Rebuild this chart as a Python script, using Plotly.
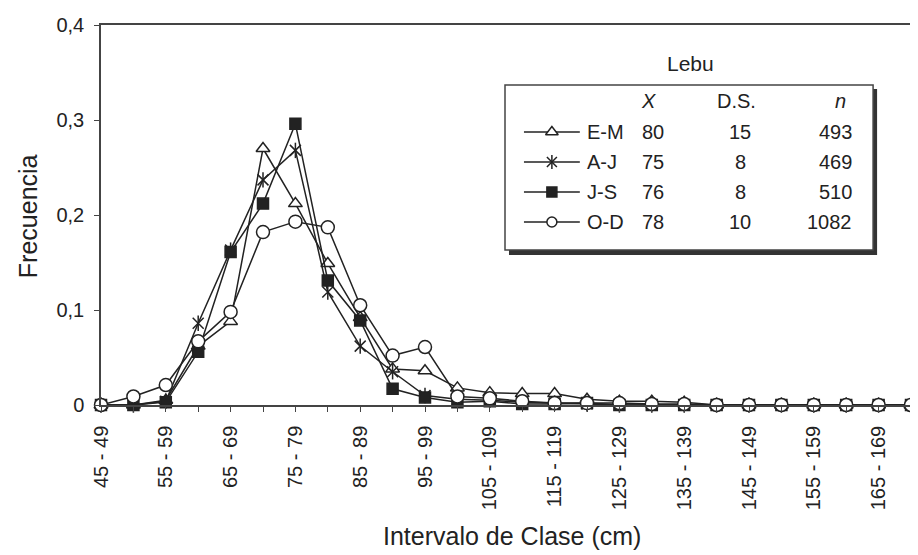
import plotly.graph_objects as go

# ---------------- data ----------------
classes = ["45 - 49", "50 - 54", "55 - 59", "60 - 64", "65 - 69", "70 - 74",
           "75 - 79", "80 - 84", "85 - 89", "90 - 94", "95 - 99", "100 - 104",
           "105 - 109", "110 - 114", "115 - 119", "120 - 124", "125 - 129",
           "130 - 134", "135 - 139", "140 - 144", "145 - 149", "150 - 154",
           "155 - 159", "160 - 164", "165 - 169", "170 - 174"]

em = [0, 0, 0.005, 0.062, 0.088, 0.270, 0.212, 0.149, 0.092, 0.038, 0.036, 0.018,
      0.013, 0.012, 0.012, 0.006, 0.004, 0.004, 0.003, 0, 0, 0, 0, 0, 0, 0]
aj = [0, 0, 0.004, 0.086, 0.163, 0.237, 0.268, 0.119, 0.062, 0.035, 0.010, 0.006,
      0.005, 0.003, 0.002, 0.001, 0, 0, 0, 0, 0, 0, 0, 0, 0, 0]
js = [0, 0, 0.003, 0.056, 0.161, 0.212, 0.296, 0.131, 0.089, 0.017, 0.008, 0.003,
      0.004, 0.001, 0.001, 0.002, 0, 0, 0, 0, 0, 0, 0, 0, 0, 0]
od = [0, 0.009, 0.021, 0.067, 0.098, 0.182, 0.193, 0.187, 0.105, 0.052, 0.061, 0.009,
      0.007, 0.004, 0.002, 0.002, 0.002, 0.001, 0.001, 0, 0, 0, 0, 0, 0, 0]

series_names = ["E-M", "A-J", "J-S", "O-D"]
mean_x = ["80", "75", "76", "78"]
ds = ["15", "8", "8", "10"]
n_vals = ["493", "469", "510", "1082"]

ytick_vals = [0, 0.1, 0.2, 0.3, 0.4]
ytick_text = ["0", "0,1", "0,2", "0,3", "0,4"]

# ---------------- styling ----------------
INK = "#222222"
AX = "#444444"
FONT = "Liberation Sans, Arial, sans-serif"

# the page body has an 8 px margin; screen coords below are for the final shot
OFF = 8
W, H = 918 - OFF, 555 - OFF
L, R, T, B = 101, 913, 25, 405          # plot area in screen pixels

idx = list(range(len(classes)))

fig = go.Figure()

def add_series(y, symbol, size, fill, extra_symbol=None):
    fig.add_trace(go.Scatter(
        x=idx, y=y, mode="lines+markers", cliponaxis=False, showlegend=False,
        line=dict(color=INK, width=1.5),
        marker=dict(symbol=symbol, size=size, color=fill,
                    line=dict(color=INK, width=1.5))))
    if extra_symbol:
        fig.add_trace(go.Scatter(
            x=idx, y=y, mode="markers", cliponaxis=False, showlegend=False,
            marker=dict(symbol=extra_symbol, size=size, color=INK,
                        line=dict(color=INK, width=1.5))))

add_series(em, "triangle-up", 12, "white")
add_series(aj, "x-thin-open", 11, INK, extra_symbol="line-ns-open")
add_series(js, "square", 11, INK)
add_series(od, "circle", 13, "white")

def px(x):
    return (x - L) / (R - L)
def py(y):
    return (B - y) / (B - T)

# legend box with shadow
fig.add_shape(type="rect", xref="paper", yref="paper", layer="below",
              x0=px(510), x1=px(879), y0=py(255), y1=py(89),
              fillcolor="#333333", line=dict(width=0))
fig.add_shape(type="rect", xref="paper", yref="paper", layer="below",
              x0=px(506), x1=px(875), y0=py(250), y1=py(85),
              fillcolor="white", line=dict(color=AX, width=1.5))

ann = []
def text(x, y, s, size=20, xanchor="center", angle=0):
    ann.append(dict(x=px(x), y=py(y), xref="paper", yref="paper", text=s,
                    showarrow=False, xanchor=xanchor, yanchor="middle",
                    textangle=angle, font=dict(family=FONT, size=size, color=INK)))

text(692, 64, "Lebu", 21)
text(650, 101, "<i>X</i>", 20)
text(738, 101, "D.S.", 20)
text(842, 101, "<i>n</i>", 20)

row_y = [132, 162, 192, 222]
symbols = [("triangle-up", 11, "white", None), ("x-thin-open", 10, INK, "line-ns-open"),
           ("square", 10, INK, None), ("circle", 10, "white", None)]
for i, name in enumerate(series_names):
    yy = py(row_y[i])
    sym, sz, fill, extra = symbols[i]
    fig.add_trace(go.Scatter(
        x=[px(525), px(553), px(581)], y=[yy, yy, yy], xaxis="x2", yaxis="y2",
        mode="lines", showlegend=False, cliponaxis=False, hoverinfo="skip",
        line=dict(color=INK, width=1.5)))
    fig.add_trace(go.Scatter(
        x=[px(553)], y=[yy], xaxis="x2", yaxis="y2",
        mode="markers", showlegend=False, cliponaxis=False, hoverinfo="skip",
        marker=dict(symbol=sym, size=sz, color=fill, line=dict(color=INK, width=1.5))))
    if extra:
        fig.add_trace(go.Scatter(
            x=[px(553)], y=[yy], xaxis="x2", yaxis="y2",
            mode="markers", showlegend=False, cliponaxis=False, hoverinfo="skip",
            marker=dict(symbol=extra, size=sz, color=INK, line=dict(color=INK, width=1.5))))
    text(586, row_y[i], name, 20, xanchor="left")
    text(641, row_y[i], mean_x[i], 20, xanchor="left")
    text(742, row_y[i], ds[i], 20)
    text(856, row_y[i], n_vals[i], 20, xanchor="right")

# axis titles
text(513, 536, "Intervalo de Clase (cm)", 25)
text(28, 216, "Frecuencia", 25, angle=-90)

fig.update_layout(
    width=W, height=H, autosize=False,
    margin=dict(l=L - OFF, r=W - (R - OFF), t=T - OFF, b=H - (B - OFF)),
    paper_bgcolor="white", plot_bgcolor="white",
    annotations=ann,
    xaxis=dict(range=[0, len(classes) - 1], tickmode="array",
               tickvals=idx[::2], ticktext=classes[::2], tickangle=-90,
               ticks="outside", ticklen=5, tickcolor=AX, tickwidth=1,
               minor=dict(dtick=1, tick0=0, ticks="outside", ticklen=5,
                          tickcolor=AX, tickwidth=1),
               showline=True, linecolor=AX, linewidth=1.5, mirror=True,
               showgrid=False, zeroline=False, ticklabelstandoff=6,
               tickfont=dict(family=FONT, size=20, color=INK)),
    yaxis=dict(range=[0, 0.4], tickmode="array", tickvals=ytick_vals,
               ticktext=ytick_text, ticks="outside", ticklen=5, tickcolor=AX,
               showline=True, linecolor=AX, linewidth=1.5, mirror=True,
               showgrid=False, zeroline=False, ticklabelstandoff=6,
               tickfont=dict(family=FONT, size=20, color=INK)),
    xaxis2=dict(overlaying="x", range=[0, 1], visible=False),
    yaxis2=dict(overlaying="y", range=[0, 1], visible=False),
)

fig.write_html("out.html")
